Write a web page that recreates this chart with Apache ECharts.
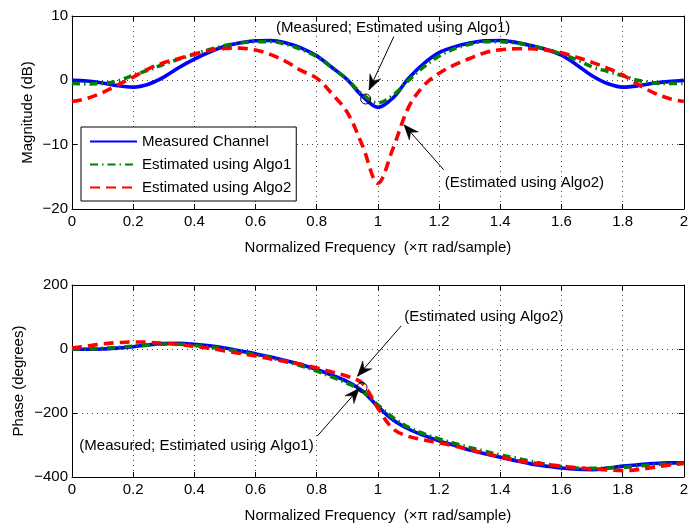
<!DOCTYPE html>
<html>
<head>
<meta charset="utf-8">
<script src="https://cdn.jsdelivr.net/npm/echarts@6/dist/echarts.min.js"></script>
<style>
  html, body { margin: 0; padding: 0; background: #fff; }
  #chart { width: 691px; height: 524px; }
</style>
</head>
<body>
<div id="chart"></div>
<script>
  // frequency samples (x pi rad/sample)
  var freq = [0, 0.05, 0.1, 0.15, 0.2, 0.25, 0.3, 0.35, 0.4, 0.45, 0.5, 0.55, 0.6, 0.65, 0.7, 0.75, 0.8, 0.85, 0.9, 0.95,
    1.0, 1.05, 1.1, 1.15, 1.2, 1.25, 1.3, 1.35, 1.4, 1.45, 1.5, 1.55, 1.6, 1.65, 1.7, 1.75, 1.8, 1.85, 1.9, 1.95, 2.0]

  // magnitude (dB)
  var magMeasured = [0, -0.1, -0.4, -0.85, -1.05, -0.6, 0.5, 2.0, 3.3, 4.4, 5.3, 5.85, 6.15, 6.2, 5.8, 5.0, 3.8, 2.0, 0.1, -2.5,
    -4.2, -2.7, 0.3, 2.6, 4.3, 5.2, 5.8, 6.15, 6.2, 5.9, 5.4, 4.8, 3.9, 2.4, 0.7, -0.5, -1.05, -0.85, -0.45, -0.2, 0]
  var magAlgo1 = [-0.5, -0.55, -0.5, -0.1, 0.8, 1.6, 2.5, 3.3, 4.05, 4.8, 5.4, 5.8, 6.0, 6.0, 5.6, 4.8, 3.7, 2.0, 0.1, -2.2,
    -3.5, -2.3, 0.0, 2.1, 3.8, 4.9, 5.6, 6.0, 6.0, 5.8, 5.4, 4.8, 4.1, 3.2, 2.1, 1.4, 0.7, 0.0, -0.4, -0.5, -0.5]
  var magAlgo2 = [-3.3, -2.8, -1.9, -0.7, 0.5, 1.8, 2.75, 3.4, 4.1, 4.65, 4.95, 5.0, 4.7, 4.0, 2.9, 1.5, 0.35, -2.1, -5.0, -10.2,
    -16.0, -10.5, -4.2, -0.8, 1.1, 2.4, 3.4, 4.3, 4.75, 4.9, 4.9, 4.7, 4.3, 3.6, 2.8, 1.9, 0.85, -0.6, -1.9, -2.8, -3.3]

  // phase (degrees)
  var phMeasured = [0, -1, 0, 3, 7, 13, 17, 18, 15, 10, 3, -6, -15, -25, -37, -49, -64, -82, -102, -132,
    -180, -222, -250, -270, -287, -301, -316, -327, -338, -349, -359, -366, -372, -376, -377, -372, -366, -362, -358, -356, -356]
  var phAlgo1 = [0, 0, 2, 5, 9, 13, 15, 15, 11, 6, 0, -9, -18, -28, -40, -53, -69, -88, -107, -132,
    -175, -215, -245, -265, -281, -295, -308, -320, -331, -341, -351, -360, -367, -372, -373, -372, -370, -366, -362, -359, -357]
  var phAlgo2 = [3, 9, 16, 20, 22, 21, 18, 14, 8, 2, -6, -14, -22, -31, -39, -48, -59, -72, -85, -108,
    -185, -250, -273, -284, -293, -303, -314, -326, -337, -348, -355, -361, -366, -371, -375, -378, -380, -377, -370, -363, -358]

  var seriesNames = ['Measured Channel', 'Estimated using Algo1', 'Estimated using Algo2']
  var xName = 'Normalized Frequency  (\u00d7\u03c0 rad/sample)'

  var font = 'Liberation Sans, Arial, sans-serif'
  var gridLine = { show: true, lineStyle: { color: '#444', width: 1, type: [1, 4] } }
  var lineStyles = [
    { color: '#0000ff', width: 3.6, type: 'solid' },
    { color: '#008000', width: 3.6, type: [8, 4, 1.5, 4] },
    { color: '#ff0000', width: 3.6, type: [10, 6] }
  ]

  function pairs(ys) {
    return freq.map(function(f, i) { return [f, ys[i]] })
  }

  function fmt(v) {
    return String(v).replace('-', '\u2212')
  }

  function xAxes(gi) {
    return [{
      gridIndex: gi, type: 'value', min: 0, max: 2, interval: 0.2, position: 'bottom',
      name: xName, nameLocation: 'middle', nameGap: 31, nameMoveOverlap: false,
      nameTextStyle: { color: '#000', fontSize: 15, fontFamily: font },
      axisLine: { show: true, onZero: false, lineStyle: { color: '#000', width: 1 } },
      axisTick: { show: true, inside: true, length: 5, lineStyle: { color: '#000' } },
      axisLabel: { color: '#000', fontSize: 15, fontFamily: font, margin: 5, showMaxLabel: true, formatter: fmt },
      splitLine: gridLine
    }, {
      gridIndex: gi, type: 'value', min: 0, max: 2, interval: 0.2, position: 'top',
      axisLine: { show: true, onZero: false, lineStyle: { color: '#000', width: 1 } },
      axisTick: { show: true, inside: true, length: 5, lineStyle: { color: '#000' } },
      axisLabel: { show: false },
      splitLine: { show: false }
    }]
  }

  function yAxes(gi, min, max, interval, name, gap) {
    return [{
      gridIndex: gi, type: 'value', min: min, max: max, interval: interval, position: 'left',
      name: name, nameLocation: 'middle', nameGap: gap, nameRotate: 90, nameMoveOverlap: false,
      nameTextStyle: { color: '#000', fontSize: 15, fontFamily: font },
      axisLine: { show: true, onZero: false, lineStyle: { color: '#000', width: 1 } },
      axisTick: { show: true, inside: true, length: 5, lineStyle: { color: '#000' } },
      axisLabel: { color: '#000', fontSize: 15, fontFamily: font, margin: 4, formatter: fmt },
      splitLine: gridLine
    }, {
      gridIndex: gi, type: 'value', min: min, max: max, interval: interval, position: 'right',
      axisLine: { show: true, onZero: false, lineStyle: { color: '#000', width: 1 } },
      axisTick: { show: true, inside: true, length: 5, lineStyle: { color: '#000' } },
      axisLabel: { show: false },
      splitLine: { show: false }
    }]
  }

  function lineSeries(i, ys, axisIdx) {
    return {
      name: seriesNames[i],
      type: 'line',
      xAxisIndex: axisIdx,
      yAxisIndex: axisIdx,
      data: pairs(ys),
      symbol: 'none',
      smooth: 0.35,
      z: 2 + i,
      lineStyle: lineStyles[i],
      itemStyle: { color: lineStyles[i].color },
      animation: false
    }
  }

  var chart = echarts.init(document.getElementById('chart'), null, { renderer: 'canvas' })
  chart.setOption({
    animation: false,
    backgroundColor: '#fff',
    textStyle: { fontFamily: font },
    grid: [
      { left: 72, right: 3, top: 16, height: 193 },
      { left: 72, right: 3, top: 285, height: 192 }
    ],
    xAxis: xAxes(0).concat(xAxes(1)),
    yAxis: yAxes(0, -20, 10, 10, 'Magnitude (dB)', 37).concat(yAxes(1, -400, 200, 200, 'Phase (degrees)', 46)),
    legend: {
      data: seriesNames,
      orient: 'vertical',
      left: 81,
      top: 127,
      itemWidth: 47,
      itemHeight: 14,
      itemGap: 8,
      padding: [7, 5, 6, 8],
      backgroundColor: '#fff',
      borderColor: '#000',
      borderWidth: 1,
      borderRadius: 0,
      selectedMode: false,
      itemStyle: { opacity: 0 },
      textStyle: { color: '#000', fontSize: 15, fontFamily: font }
    },
    series: [
      lineSeries(0, magMeasured, 0),
      lineSeries(1, magAlgo1, 0),
      lineSeries(2, magAlgo2, 0),
      lineSeries(0, phMeasured, 2),
      lineSeries(1, phAlgo1, 2),
      lineSeries(2, phAlgo2, 2)
    ]
  })

  // annotations, given in data coordinates of each panel
  var notes = [
    { grid: 0, text: '(Measured; Estimated using Algo1)', at: [1.05, 8.1], from: [1.052, 6.8], to: [0.971, -1.5], circle: [0.96, -2.9] },
    { grid: 0, text: '(Estimated using Algo2)', at: [1.479, -15.9], from: [1.215, -13.9], to: [1.085, -6.9] },
    { grid: 1, text: '(Estimated using Algo2)', at: [1.346, 102], from: [1.076, 72], to: [0.933, -85] },
    { grid: 1, text: '(Measured; Estimated using Algo1)', at: [0.407, -304], from: [0.802, -272], to: [0.939, -123], circle: [0.948, -120] }
  ]

  function arrowHead(p0, p1) {
    var dx = p1[0] - p0[0], dy = p1[1] - p0[1]
    var len = Math.sqrt(dx * dx + dy * dy)
    var ux = dx / len, uy = dy / len
    var nx = -uy, ny = ux
    var L = 15, W = 6, notch = 10
    return [
      [p1[0], p1[1]],
      [p1[0] - ux * L + nx * W, p1[1] - uy * L + ny * W],
      [p1[0] - ux * notch, p1[1] - uy * notch],
      [p1[0] - ux * L - nx * W, p1[1] - uy * L - ny * W]
    ]
  }

  var graphics = []
  notes.forEach(function(n) {
    var finder = { gridIndex: n.grid }
    var t = chart.convertToPixel(finder, n.at)
    var a = chart.convertToPixel(finder, n.from)
    var b = chart.convertToPixel(finder, n.to)
    graphics.push({
      type: 'text', x: t[0], y: t[1], z: 20,
      style: { text: n.text, fill: '#000', font: '15px ' + font, textAlign: 'center', textVerticalAlign: 'middle', align: 'center', verticalAlign: 'middle' }
    })
    graphics.push({
      type: 'line', z: 20,
      shape: { x1: a[0], y1: a[1], x2: b[0], y2: b[1] },
      style: { stroke: '#000', lineWidth: 1 }
    })
    graphics.push({
      type: 'polygon', z: 21,
      shape: { points: arrowHead(a, b) },
      style: { fill: '#000', stroke: '#000', lineWidth: 0.5 }
    })
    if (n.circle) {
      var c = chart.convertToPixel(finder, n.circle)
      graphics.push({
        type: 'circle', z: 20,
        shape: { cx: c[0], cy: c[1], r: 5 },
        style: { fill: 'none', stroke: '#000', lineWidth: 1 }
      })
    }
  })
  chart.setOption({ graphic: graphics })
</script>
</body>
</html>
